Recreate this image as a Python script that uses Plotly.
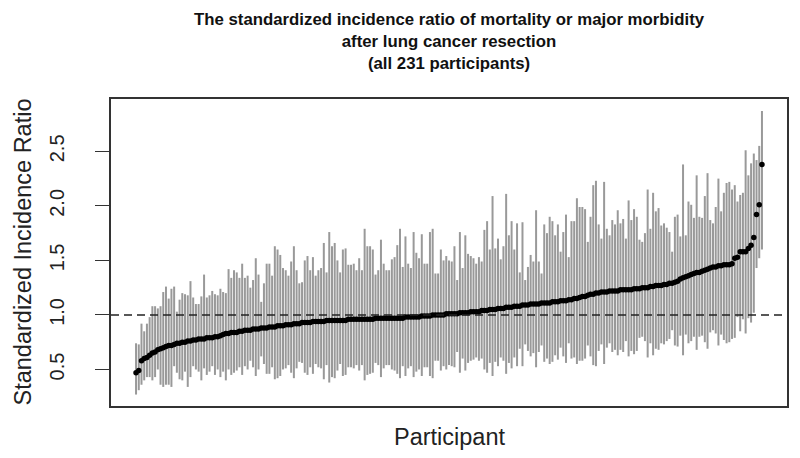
import plotly.graph_objects as go

# ---- data ----
participants = list(range(1, 232))

sir = [
    0.47, 0.49, 0.58, 0.60, 0.61, 0.63, 0.65, 0.66, 0.68, 0.69,
    0.70, 0.71, 0.72, 0.72, 0.73, 0.74, 0.74, 0.75, 0.75, 0.76,
    0.76, 0.77, 0.77, 0.78, 0.78, 0.78, 0.79, 0.79, 0.79, 0.80,
    0.80, 0.81, 0.82, 0.83, 0.83, 0.84, 0.84, 0.84, 0.85, 0.85,
    0.86, 0.86, 0.86, 0.87, 0.87, 0.87, 0.88, 0.88, 0.88, 0.89,
    0.89, 0.89, 0.90, 0.90, 0.90, 0.91, 0.91, 0.91, 0.92, 0.92,
    0.92, 0.93, 0.93, 0.93, 0.93, 0.94, 0.94, 0.94, 0.94, 0.94,
    0.95, 0.95, 0.95, 0.95, 0.95, 0.95, 0.95, 0.95, 0.96, 0.96,
    0.96, 0.96, 0.96, 0.96, 0.96, 0.96, 0.96, 0.96, 0.97, 0.97,
    0.97, 0.97, 0.97, 0.97, 0.97, 0.97, 0.97, 0.97, 0.97, 0.98,
    0.98, 0.98, 0.98, 0.98, 0.98, 0.99, 0.99, 0.99, 0.99, 1.00,
    1.00, 1.00, 1.00, 1.00, 1.01, 1.01, 1.01, 1.01, 1.01, 1.02,
    1.02, 1.02, 1.02, 1.03, 1.03, 1.03, 1.03, 1.04, 1.04, 1.04,
    1.05, 1.05, 1.05, 1.06, 1.06, 1.06, 1.07, 1.07, 1.07, 1.08,
    1.08, 1.08, 1.09, 1.09, 1.09, 1.10, 1.10, 1.10, 1.10, 1.11,
    1.11, 1.11, 1.11, 1.12, 1.12, 1.12, 1.13, 1.13, 1.13, 1.14,
    1.14, 1.15, 1.15, 1.16, 1.17, 1.17, 1.18, 1.19, 1.19, 1.20,
    1.20, 1.21, 1.21, 1.21, 1.22, 1.22, 1.22, 1.22, 1.23, 1.23,
    1.23, 1.23, 1.23, 1.24, 1.24, 1.24, 1.25, 1.25, 1.25, 1.26,
    1.26, 1.27, 1.27, 1.27, 1.28, 1.28, 1.29, 1.29, 1.30, 1.31,
    1.33, 1.34, 1.35, 1.36, 1.37, 1.38, 1.39, 1.39, 1.40, 1.41,
    1.42, 1.43, 1.44, 1.44, 1.45, 1.45, 1.46, 1.46, 1.46, 1.47,
    1.52, 1.53, 1.58, 1.58, 1.58, 1.61, 1.64, 1.71, 1.92, 2.01, 2.38,
]

upper = [
    # 1-36
    0.74, 0.73, 0.92, 0.85, 0.92, 0.98, 1.08, 1.08, 1.06, 1.08,
    1.21, 1.26, 1.15, 1.24, 1.26, 1.03, 1.14, 1.20, 1.19, 1.18,
    1.31, 1.16, 1.10, 1.10, 1.17, 1.37, 1.16, 1.18, 1.22, 1.19,
    1.18, 1.24, 1.21, 1.20, 1.42, 1.34,
    # 37-77
    1.41, 1.39, 1.34, 1.47, 1.34, 1.36, 1.25, 1.32, 1.52, 1.37,
    1.12, 1.29, 1.47, 1.47, 1.36, 1.63, 1.60, 1.55, 1.43, 1.41,
    1.36, 1.49, 1.63, 1.41, 1.29, 1.30, 1.50, 1.54, 1.41, 1.53,
    1.36, 1.41, 1.43, 1.66, 1.39, 1.76, 1.63, 1.66, 1.50, 1.39,
    1.60,
    # 78-117
    1.61, 1.46, 1.46, 1.47, 1.41, 1.52, 1.41, 1.79, 1.63, 1.63,
    1.60, 1.37, 1.41, 1.69, 1.47, 1.41, 1.41, 1.51, 1.53, 1.64,
    1.79, 1.44, 1.72, 1.47, 1.43, 1.76, 1.57, 1.52, 1.74, 1.47,
    1.47, 1.76, 1.79, 1.38, 1.38, 1.60, 1.50, 1.54, 1.50, 1.49,
    # 118-154
    1.63, 1.32, 1.76, 1.43, 1.73, 1.56, 1.54, 1.52, 1.47, 1.53,
    1.49, 1.78, 1.86, 1.60, 2.09, 1.61, 1.70, 1.51, 1.63, 2.11,
    1.73, 1.86, 1.60, 1.84, 1.39, 1.85, 1.32, 1.44, 1.55, 1.49,
    1.96, 1.49, 1.38, 1.83, 1.75, 1.90, 1.86,
    # 155-193
    1.73, 1.83, 1.58, 1.76, 1.92, 1.53, 1.86, 1.86, 2.07, 1.99,
    1.99, 1.97, 1.67, 1.90, 2.19, 2.23, 1.83, 1.70, 2.22, 1.79,
    1.73, 1.87, 1.83, 1.96, 1.84, 1.88, 1.70, 2.05, 1.87, 1.97,
    1.90, 1.69, 1.67, 1.75, 2.15, 1.79, 2.12, 1.95, 1.98,
    # 194-231
    1.82, 1.84, 1.80, 1.76, 1.58, 1.90, 1.92, 1.72, 2.38, 1.73,
    2.04, 2.01, 1.89, 2.28, 1.90, 1.89, 2.09, 2.30, 1.87, 1.84,
    1.99, 2.25, 1.95, 2.12, 2.21, 2.22, 2.15, 2.19, 2.04, 2.10,
    2.12, 2.51, 2.28, 2.39, 2.48, 2.42, 2.55, 2.87,
]

lower = [
    # 1-36
    0.27, 0.31, 0.36, 0.40, 0.43, 0.43, 0.40, 0.43, 0.50, 0.36,
    0.34, 0.36, 0.36, 0.34, 0.53, 0.47, 0.41, 0.40, 0.48, 0.34,
    0.43, 0.53, 0.50, 0.48, 0.40, 0.51, 0.45, 0.48, 0.53, 0.45,
    0.50, 0.43, 0.48, 0.40, 0.50, 0.45,
    # 37-77
    0.47, 0.49, 0.52, 0.45, 0.53, 0.50, 0.58, 0.52, 0.44, 0.50,
    0.62, 0.55, 0.46, 0.46, 0.52, 0.41, 0.42, 0.44, 0.50, 0.51,
    0.54, 0.47, 0.42, 0.51, 0.57, 0.56, 0.47, 0.45, 0.52, 0.46,
    0.55, 0.52, 0.51, 0.41, 0.54, 0.38, 0.43, 0.42, 0.49, 0.55,
    0.44,
    # 78-117
    0.45, 0.52, 0.52, 0.51, 0.54, 0.49, 0.54, 0.40, 0.45, 0.46,
    0.47, 0.56, 0.54, 0.43, 0.51, 0.54, 0.54, 0.50, 0.49, 0.46,
    0.42, 0.53, 0.44, 0.51, 0.53, 0.43, 0.48, 0.50, 0.44, 0.52,
    0.52, 0.44, 0.42, 0.58, 0.58, 0.49, 0.53, 0.50, 0.54, 0.53,
    # 118-154
    0.52, 0.66, 0.47, 0.60, 0.49, 0.56, 0.58, 0.59, 0.61, 0.58,
    0.60, 0.50, 0.47, 0.56, 0.44, 0.57, 0.53, 0.61, 0.58, 0.46,
    0.56, 0.51, 0.61, 0.53, 0.69, 0.53, 0.73, 0.67, 0.62, 0.65,
    0.52, 0.66, 0.72, 0.57, 0.60, 0.55, 0.57,
    # 155-193
    0.63, 0.59, 0.70, 0.62, 0.56, 0.74, 0.60, 0.61, 0.55, 0.58,
    0.58, 0.60, 0.72, 0.62, 0.54, 0.53, 0.67, 0.73, 0.55, 0.70,
    0.74, 0.66, 0.68, 0.63, 0.68, 0.66, 0.76, 0.62, 0.67, 0.64,
    0.67, 0.79, 0.80, 0.76, 0.61, 0.74, 0.63, 0.69, 0.68,
    # 194-231
    0.74, 0.73, 0.76, 0.78, 0.86, 0.72, 0.71, 0.81, 0.63, 0.82,
    0.74, 0.76, 0.80, 0.68, 0.80, 0.81, 0.75, 0.69, 0.84, 0.86,
    0.83, 0.72, 0.82, 0.77, 0.74, 0.75, 0.78, 0.79, 0.98, 0.85,
    0.96, 0.83, 0.97, 0.93, 1.02, 1.43, 1.52, 1.60,
]

y_ticks = [0.5, 1.0, 1.5, 2.0, 2.5]
y_tick_labels = ["0.5", "1.0", "1.5", "2.0", "2.5"]
reference_ratio = 1.0

title_lines = [
    "The standardized incidence ratio of mortality or major morbidity",
    "after lung cancer resection",
    "(all 231 participants)",
]

assert len(sir) == len(lower) == len(upper) == len(participants), (len(sir), len(lower), len(upper))

err_plus = [u - s for u, s in zip(upper, sir)]
err_minus = [s - l for s, l in zip(sir, lower)]

FONT = "Liberation Sans, Arial, Helvetica, sans-serif"

# page body has an 8px margin: the figure is sized so it sits inside the window
W, H = 784, 442
ML, MR, MT, MB = 103, 5, 91, 44
PH = H - MT - MB  # plot height in px

fig = go.Figure()
fig.add_trace(go.Scatter(
    x=participants, y=sir, mode="markers",
    marker=dict(color="black", size=5.5),
    error_y=dict(type="data", symmetric=False, array=err_plus, arrayminus=err_minus,
                 color="#999999", thickness=2, width=0),
    showlegend=False, hoverinfo="skip",
))

fig.add_shape(type="line", xref="paper", x0=0, x1=1, yref="y",
              y0=reference_ratio, y1=reference_ratio,
              line=dict(color="#222222", width=1.5, dash="8px,5px"), layer="above")

fig.update_layout(
    width=W, height=H,
    margin=dict(l=ML, r=MR, t=MT, b=MB, autoexpand=False),
    paper_bgcolor="white", plot_bgcolor="white",
    font=dict(family=FONT, color="#222222"),
    xaxis=dict(range=[-8.2, 240.2], showticklabels=False, ticks="", showgrid=False,
               zeroline=False, showline=True, mirror=True, linecolor="#333333",
               linewidth=1.5, automargin=False),
    yaxis=dict(range=[0.165, 2.98], tickvals=y_ticks, ticktext=y_tick_labels,
               ticks="outside", ticklen=14, tickwidth=1.2, tickcolor="#333333",
               tickangle=-90, tickfont=dict(size=20, color="#222222"),
               ticklabelstandoff=23, automargin=False,
               showgrid=False, zeroline=False, showline=True, mirror=True,
               linecolor="#333333", linewidth=1.5),
    annotations=[
        dict(text="<b>" + "<br>".join(title_lines) + "</b>", xref="paper", yref="paper",
             x=0.5, y=1 + (MT - 34) / PH, showarrow=False,
             xanchor="center", yanchor="middle",
             font=dict(size=16.8, color="#111111")),
        dict(text="Standardized Incidence Ratio", xref="paper", yref="paper",
             x=(22 - 111) / 676, y=0.5, textangle=-90, showarrow=False,
             xanchor="center", yanchor="middle", font=dict(size=23.5, color="#222222")),
        dict(text="Participant", xref="paper", yref="paper",
             x=0.5, y=(398 - 429) / PH, showarrow=False,
             xanchor="center", yanchor="middle", font=dict(size=23.5, color="#222222")),
    ],
)

fig.write_html("out.html")
